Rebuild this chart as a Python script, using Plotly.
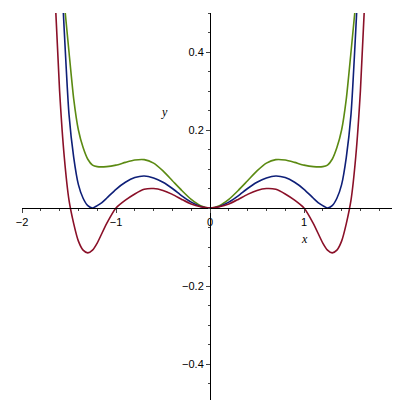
import plotly.graph_objects as go

# values (right half; the curves are symmetric)
xs_blue = [0, 0.1, 0.2, 0.3, 0.4, 0.5, 0.6, 0.7, 0.8, 0.9, 1.0, 1.1, 1.15, 1.2, 1.25, 1.3, 1.35, 1.4, 1.45, 1.5, 1.56]
blue = [0, 0.004, 0.015, 0.031, 0.05, 0.066, 0.077, 0.082, 0.078, 0.066, 0.048, 0.025, 0.014, 0.006, 0, 0.006, 0.025, 0.06, 0.13, 0.24, 0.5]

xs_green = [0, 0.1, 0.2, 0.3, 0.4, 0.5, 0.6, 0.7, 0.8, 0.9, 1.0, 1.1, 1.2, 1.25, 1.3, 1.35, 1.4, 1.45, 1.5, 1.54]
green = [0, 0.006, 0.022, 0.045, 0.07, 0.095, 0.115, 0.124, 0.123, 0.117, 0.11, 0.106, 0.106, 0.11, 0.125, 0.155, 0.2, 0.28, 0.4, 0.5]

xs_red = [0, 0.1, 0.2, 0.3, 0.4, 0.5, 0.6, 0.7, 0.8, 0.9, 1.0, 1.1, 1.2, 1.25, 1.3, 1.35, 1.4, 1.45, 1.5, 1.55, 1.6, 1.64]
red = [0, 0.003, 0.01, 0.022, 0.035, 0.045, 0.05, 0.048, 0.036, 0.02, 0, -0.04, -0.09, -0.108, -0.115, -0.108, -0.085, -0.04, 0.02, 0.13, 0.3, 0.5]

x_ticks = [-2, -1, 0, 1, 2]
x_labels = ["\u22122", "\u22121", "0", "1", "2"]
y_ticks = [-0.4, -0.2, 0.2, 0.4]
y_labels = ["\u22120.4", "\u22120.2", "0.2", "0.4"]

def mirror(xs, ys):
    return [-v for v in xs[::-1]] + xs[1:], ys[::-1] + ys[1:]

fig = go.Figure()
for xs, ys, col in [(xs_green, green, "#5b8a12"), (xs_blue, blue, "#0e1f78"), (xs_red, red, "#8a1028")]:
    mx, my = mirror(xs, ys)
    fig.add_scatter(x=mx, y=my, mode="lines", line=dict(color=col, width=1.6, shape="spline", smoothing=0.6))

fig.update_layout(
    width=400, height=400, showlegend=False,
    paper_bgcolor="white", plot_bgcolor="white",
    margin=dict(l=14, r=10, t=5, b=5),
    font=dict(family="Liberation Sans", size=11, color="black"),
)
fig.update_xaxes(range=[-2, 2], anchor="free", position=0.5, showline=True, linecolor="black",
                 showgrid=False, zeroline=False, tickvals=x_ticks, ticktext=x_labels, automargin=False,
                 ticks="outside", ticklen=4, minor=dict(ticks="outside", ticklen=2, dtick=0.2))
fig.update_yaxes(range=[-0.5, 0.5], anchor="free", position=0.5, showline=True, linecolor="black",
                 showgrid=False, zeroline=False, tickvals=y_ticks, ticktext=y_labels, automargin=False,
                 ticks="outside", ticklen=4, minor=dict(ticks="outside", ticklen=2, dtick=0.05))
fig.add_annotation(x=1.0, y=-0.08, text="<i>x</i>", showarrow=False,
                   font=dict(family="Liberation Serif", size=12))
fig.add_annotation(x=-0.48, y=0.245, text="<i>y</i>", showarrow=False,
                   font=dict(family="Liberation Serif", size=12))

fig.write_html("out.html")
